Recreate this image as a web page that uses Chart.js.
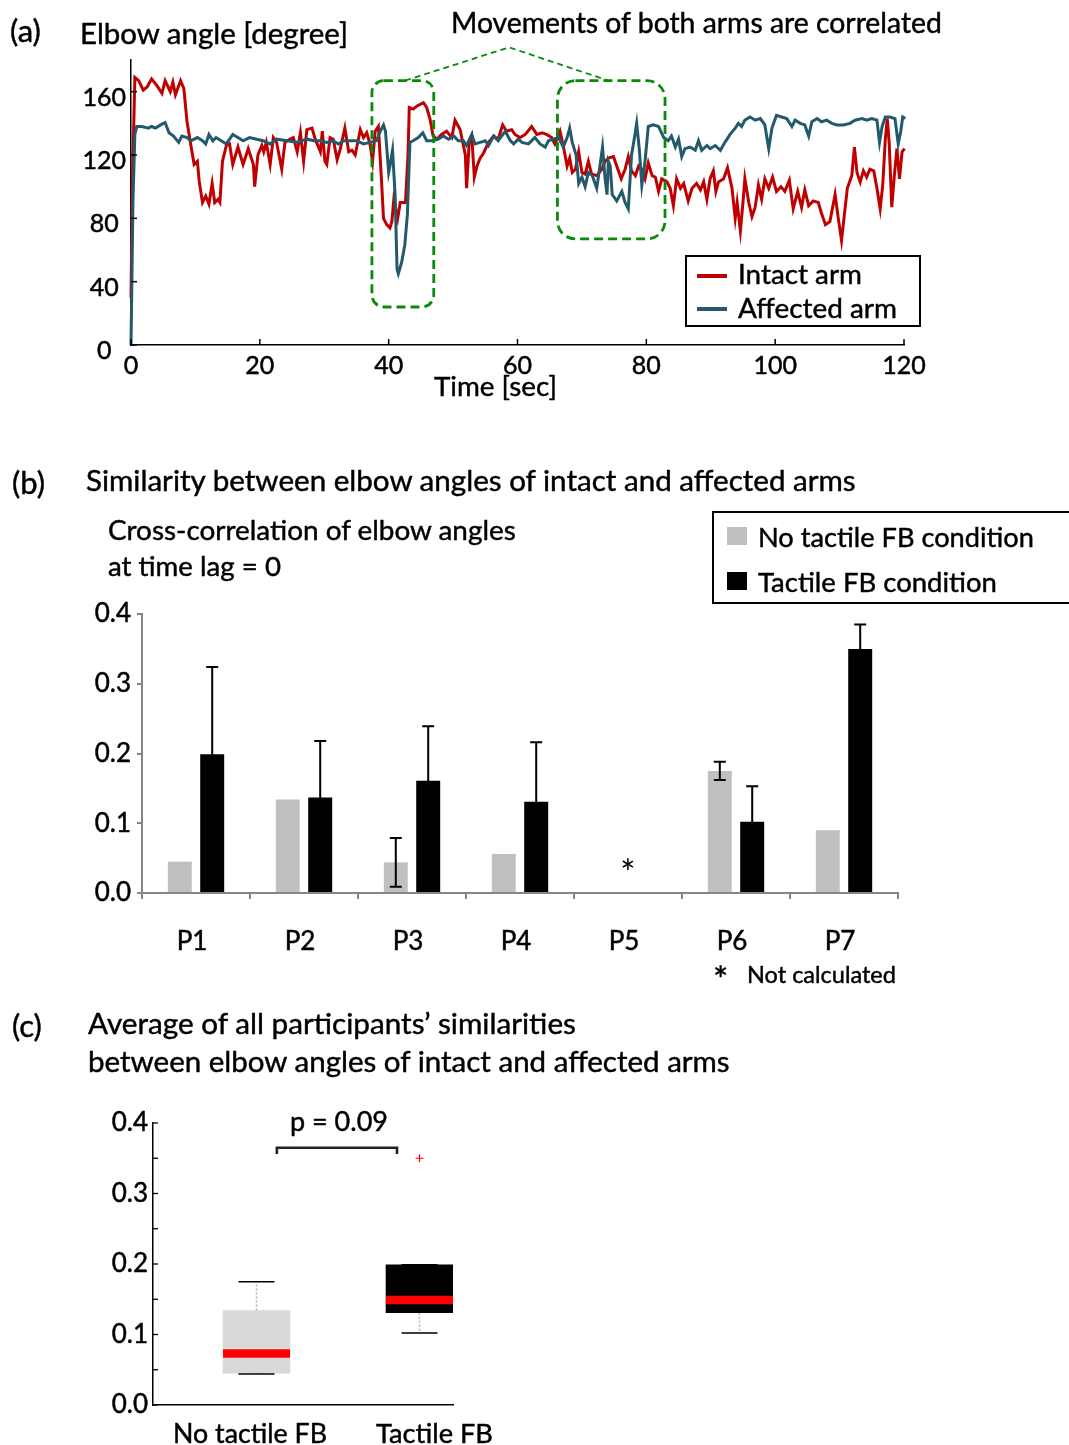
<!DOCTYPE html>
<html>
<head>
<meta charset="utf-8">
<script src="https://cdn.jsdelivr.net/npm/chart.js@4.4.1/dist/chart.umd.min.js"></script>
<style>
  html, body { margin: 0; padding: 0; background: #fff; }
  body { width: 1069px; height: 1445px; position: relative; overflow: hidden;
         font-family: Lato, "Open Sans", sans-serif; color: #000; }
  canvas { position: absolute; left: 0; }
  .t { position: absolute; white-space: nowrap; line-height: 1; transform: translateY(-50%);
       -webkit-text-stroke: 0.45px #000; }
  .frame { position: absolute; border: 2px solid #000; box-sizing: border-box; }
  .sw { position: absolute; }
</style>
</head>
<body>
<canvas id="chartA" width="1069" height="400" style="top:0px"></canvas>
<canvas id="chartB" width="1069" height="600" style="top:400px"></canvas>
<canvas id="chartC" width="1069" height="445" style="top:1000px"></canvas>

<!-- panel (a) text -->
<div class="t" style="left:10px;top:30px;font-size:31px">(a)</div>
<div class="t" data-w="268" style="left:80px;top:33px;font-size:26px">Elbow angle [degree]</div>
<div class="t" data-w="491" style="left:451px;top:22px;font-size:26px">Movements of both arms are correlated</div>
<div class="t" data-w="123" style="left:434px;top:386px;font-size:26px">Time [sec]</div>
<div class="frame" style="left:685px;top:255px;width:236px;height:72px"></div>
<div class="sw" id="swIntact" style="left:697px;top:274px;width:30px;height:3.5px"></div>
<div class="t" data-w="124" style="left:738px;top:274px;font-size:26px">Intact arm</div>
<div class="sw" id="swAffected" style="left:697px;top:307px;width:30px;height:3.5px"></div>
<div class="t" data-w="159" style="left:738px;top:308px;font-size:26px">Affected arm</div>

<!-- panel (b) text -->
<div class="t" style="left:12px;top:482px;font-size:31px">(b)</div>
<div class="t" data-w="770" style="left:86px;top:480px;font-size:26px">Similarity between elbow angles of intact and affected arms</div>
<div class="t" data-w="408" style="left:108px;top:530px;font-size:26px">Cross-correlation of elbow angles</div>
<div class="t" data-w="173" style="left:108px;top:566px;font-size:26px">at time lag = 0</div>
<div class="frame" style="left:712px;top:511px;width:380px;height:93px"></div>
<div class="sw" id="swNo" style="left:727px;top:527px;width:20px;height:18px"></div>
<div class="t" data-w="276" style="left:758px;top:537px;font-size:26px">No tactile FB condition</div>
<div class="sw" id="swTac" style="left:727px;top:572px;width:20px;height:18px"></div>
<div class="t" data-w="239" style="left:758px;top:582px;font-size:26px">Tactile FB condition</div>
<div class="t" style="left:713px;top:979px;font-size:36px">*</div>
<div class="t" data-w="149" style="left:747px;top:975px;font-size:24px">Not calculated</div>

<!-- panel (c) text -->
<div class="t" style="left:12px;top:1025px;font-size:31px">(c)</div>
<div class="t" data-w="488" style="left:88px;top:1023px;font-size:26px">Average of all participants’ similarities</div>
<div class="t" data-w="642" style="left:88px;top:1061px;font-size:26px">between elbow angles of intact and affected arms</div>
<div class="t" data-w="98" style="left:290px;top:1121px;font-size:26px">p = 0.09</div>
<div class="t" data-w="154" style="left:173px;top:1433px;font-size:26px">No tactile FB</div>
<div class="t" data-w="117" style="left:376px;top:1433px;font-size:26px">Tactile FB</div>

<script>
// ---------- data ----------
// (a) elbow angle traces: [time in s, angle in degrees]
const intactArm = [
  [0,30],[0.2,100],[0.6,169],[1.2,167],[1.9,161],[2.5,163],[3.2,168],[4.0,164],[4.8,159],[5.3,167],
  [6.1,160],[6.5,166],[6.9,158],[7.7,167],[8.2,162],[8.7,141],[9.3,126],[9.8,114],[10.3,116],[10.6,103],
  [11.1,90],[11.6,94],[12.1,89],[12.6,102],[13.0,90],[13.5,92],[13.8,90],[14.2,116],[14.8,126],[15.3,127],
  [15.8,114],[16.6,125],[17.4,114],[18.2,124],[19.0,114],[19.2,100],[19.7,120],[20.3,126],[20.6,122],[21.0,128],
  [21.6,114],[22.1,131],[22.6,128],[23.4,111],[23.9,128],[24.7,130],[25.2,131],[25.8,122],[26.3,134],[26.8,116],
  [27.3,136],[28.1,137],[28.6,130],[29.4,122],[29.7,135],[30.1,116],[30.4,114],[30.9,131],[31.4,130],[32.0,117],
  [32.5,124],[33.2,137],[33.8,122],[34.3,123],[34.8,120],[35.6,136],[36.1,131],[36.6,134],[37.1,127],[37.5,116],
  [37.9,135],[38.4,138],[38.9,103],[39.2,80],[39.7,76],[40.2,74],[40.5,78],[40.8,92],[41.4,80],[41.8,90],
  [42.6,90],[43.0,120],[43.2,150],[43.8,149],[44.4,151],[44.9,152],[45.4,153],[45.9,150],[46.4,143],[46.9,132],
  [47.5,130],[48.2,133],[49.0,135],[49.8,131],[50.3,142],[51.1,136],[51.9,120],[52.1,99],[52.5,128],[52.9,132],
  [53.3,106],[53.7,113],[54.2,118],[54.7,121],[55.5,128],[56.3,132],[57.0,130],[57.7,139],[58.3,135],[59.1,136],
  [59.6,133],[60.4,131],[61.2,133],[62.2,138],[63.0,133],[63.8,134],[64.5,133],[65.3,131],[65.8,127],[66.6,135],
  [67.1,126],[67.7,113],[68.1,118],[68.5,109],[69.0,111],[69.5,122],[70.0,109],[70.5,108],[71.0,116],[71.5,108],
  [72.3,107],[73.1,111],[73.6,116],[74.1,118],[74.9,119],[75.4,113],[76.1,105],[76.7,111],[77.2,119],[77.7,110],
  [78.3,107],[78.8,113],[79.3,111],[79.8,105],[80.3,115],[80.9,107],[81.4,106],[81.9,97],[82.4,105],[83.2,103],
  [83.7,99],[84.2,88],[84.7,105],[85.3,99],[85.8,102],[86.5,91],[87.1,99],[87.8,102],[88.4,98],[88.9,103],
  [89.4,92],[89.9,105],[90.4,110],[90.8,97],[91.2,103],[92.0,105],[92.6,112],[93.3,99],[93.8,80],[94.1,90],
  [94.6,72],[95.0,90],[95.3,105],[95.9,90],[96.4,81],[96.9,87],[97.4,101],[97.9,92],[98.4,105],[99.0,99],
  [99.6,106],[100.2,97],[100.9,100],[101.5,97],[102.2,104],[102.8,86],[103.5,97],[104.1,87],[104.6,98],[105.2,88],
  [105.9,91],[106.7,90],[107.2,83],[107.8,76],[108.5,78],[109.3,95],[109.8,80],[110.3,66],[110.9,88],[111.2,99],
  [111.9,107],[112.3,125],[112.7,109],[113.2,103],[113.7,110],[114.2,106],[114.7,111],[115.3,110],[115.8,99],[116.3,86],
  [116.7,101],[117.1,130],[117.4,143],[117.7,128],[118.1,87],[118.5,107],[118.9,124],[119.3,105],[119.7,122],[120.1,124]
];
const affectedArm = [
  [0,0],[0.3,90],[0.6,133],[0.9,138],[1.7,138],[2.7,137],[3.2,138],[3.8,137],[4.6,139],[5.3,140.5],
  [5.9,134],[6.6,132],[7.4,128],[7.9,132],[8.7,131],[9.3,129],[10.3,131],[11.1,129],[11.6,127],[12.1,133],
  [12.7,129],[13.2,131],[14.0,129],[14.8,127],[15.8,133],[16.6,131],[17.4,129],[18.4,131],[19.5,130],[20.5,129],
  [21.6,127],[22.6,130],[24.2,129],[25.8,128],[27.3,130],[28.4,129],[29.4,129],[30.4,128],[31.4,129],[32.2,127],
  [33.0,129],[34.0,129],[35.0,129],[36.1,127],[37.1,128],[38.1,129],[38.7,135],[39.2,139],[39.5,135],[40.0,109],
  [40.2,113],[40.6,123],[41.0,95],[41.3,48],[41.5,45],[42.0,52],[42.5,63],[42.9,82],[43.3,128],[43.8,129],
  [44.6,131],[45.3,134],[45.9,129],[46.7,129],[47.7,130],[48.5,132],[49.3,130],[50.1,132],[50.8,129],[51.6,129],
  [52.1,126],[52.9,133],[53.4,127],[54.2,128],[55.0,129],[55.5,126],[56.3,132],[57.0,129],[58.1,135],[58.9,129],
  [59.4,127],[60.1,130],[60.7,128],[61.7,127],[62.7,131],[63.5,127],[64.3,125],[64.8,129],[65.6,130],[66.4,131],
  [67.1,125],[67.7,131],[68.1,137],[68.5,128],[69.1,120],[69.5,102],[70.0,106],[70.5,100],[71.0,109],[71.6,107],
  [72.3,99],[72.8,113],[73.2,125],[73.6,105],[73.9,95],[74.1,116],[74.4,113],[74.7,95],[75.4,91],[76.2,97],
  [76.7,90],[77.2,86],[77.7,120],[78.2,132],[78.5,140],[78.9,124],[79.3,101],[79.8,116],[80.3,138],[81.1,139],
  [81.9,138],[82.7,131],[83.4,129],[83.9,132],[84.5,125],[85.0,130],[85.5,119],[86.0,124],[86.8,125],[87.6,123],
  [88.1,129],[88.6,123],[89.4,126],[89.9,124],[90.7,126],[91.5,123],[92.2,128],[93.0,133],[93.8,137],[94.3,140],
  [94.8,138],[95.3,142],[96.1,144],[96.9,142],[97.7,143],[98.4,139],[99.0,124],[99.5,137],[100.2,145],[101.0,144],
  [101.8,143],[102.6,138],[103.1,142],[103.9,140],[104.6,139],[105.2,132],[105.7,141],[106.5,143],[107.2,141],[108.0,142],
  [108.8,140],[109.6,139],[110.6,139],[111.6,140],[112.4,142],[113.5,143],[114.2,142],[115.0,143],[115.8,142],[116.2,128],
  [116.6,138],[117.1,144],[117.8,144],[118.6,143],[119.1,127],[119.5,135],[119.8,144],[120.2,143]
];
// highlighted windows (s / deg) and the connector between them
const focusWindows = [
  { from: 37.4, to: 47.0, low: 24, high: 167, radius: 12 },
  { from: 66.2, to: 82.9, low: 67, high: 167, radius: 18 }
];
const focusConnector = [[42.55, 167], [58.7, 188], [74.1, 167]];

// (b) cross-correlation per participant (null = not calculated)
const participants = ['P1', 'P2', 'P3', 'P4', 'P5', 'P6', 'P7'];
const noTactile    = [0.045, 0.134, 0.044, 0.056, null, 0.175, 0.090];
const noTactileErr = [0,     0,     0.035, 0,     null, 0.013, 0];
const tactile      = [0.199, 0.137, 0.161, 0.131, null, 0.102, 0.350];
const tactileErr   = [0.125, 0.081, 0.078, 0.085, null, 0.051, 0.035];

// (c) significance bracket between the two groups
const bracket = { from: 1.125, to: 1.862, level: 0.365, drop: 0.009 };

// ---------- styling ----------
const INTACT = '#C00000', AFFECTED = '#235A6B', GREEN = '#0A8A0A';
const GRAY_BAR = '#C0C0C0', AXIS_GRAY = '#868686';
const FONT = 'Lato, "Open Sans", sans-serif';
document.getElementById('swIntact').style.background = INTACT;
document.getElementById('swAffected').style.background = AFFECTED;
document.getElementById('swNo').style.background = GRAY_BAR;
document.getElementById('swTac').style.background = '#000';

Chart.defaults.font.family = FONT;
Chart.defaults.color = '#000';
const tickFont = size => ({ font: { size }, textStrokeColor: '#000', textStrokeWidth: 0.5 });

// tick marks pointing into the plot area
const insideTicks = {
  id: 'insideTicks',
  afterDraw(chart, args, opts) {
    const { ctx, chartArea } = chart;
    ctx.save();
    ctx.strokeStyle = opts.color || '#000';
    ctx.lineWidth = opts.width || 1.5;
    (opts.axes || []).forEach(id => {
      const s = chart.scales[id];
      s.ticks.forEach(t => {
        const p = s.getPixelForValue(t.value);
        ctx.beginPath();
        if (s.isHorizontal()) { ctx.moveTo(p, chartArea.bottom); ctx.lineTo(p, chartArea.bottom - opts.length); }
        else { ctx.moveTo(chartArea.left, p); ctx.lineTo(chartArea.left + opts.length, p); }
        ctx.stroke();
      });
    });
    ctx.restore();
  }
};

function roundedRect(ctx, x, y, w, h, r) {
  ctx.beginPath();
  ctx.moveTo(x + r, y);
  ctx.lineTo(x + w - r, y); ctx.arcTo(x + w, y, x + w, y + r, r);
  ctx.lineTo(x + w, y + h - r); ctx.arcTo(x + w, y + h, x + w - r, y + h, r);
  ctx.lineTo(x + r, y + h); ctx.arcTo(x, y + h, x, y + h - r, r);
  ctx.lineTo(x, y + r); ctx.arcTo(x, y, x + r, y, r);
  ctx.closePath();
}

// dashed rounded frames around correlated segments
const focusBoxes = {
  id: 'focusBoxes',
  afterDatasetsDraw(chart, args, opts) {
    const { ctx, scales: { x, y } } = chart;
    ctx.save();
    ctx.strokeStyle = GREEN;
    ctx.lineWidth = 2.8;
    ctx.setLineDash([9, 5]);
    opts.windows.forEach(w => {
      const l = x.getPixelForValue(w.from), r = x.getPixelForValue(w.to);
      const t = y.getPixelForValue(w.high), b = y.getPixelForValue(w.low);
      roundedRect(ctx, l, t, r - l, b - t, w.radius);
      ctx.stroke();
    });
    ctx.lineWidth = 1.8;
    ctx.setLineDash([6, 4]);
    ctx.beginPath();
    opts.connector.forEach(([tx, ty], i) => {
      const px = x.getPixelForValue(tx), py = y.getPixelForValue(ty);
      if (i) ctx.lineTo(px, py); else ctx.moveTo(px, py);
    });
    ctx.stroke();
    ctx.restore();
  }
};

// ---------- (a) elbow angle over time ----------
new Chart(document.getElementById('chartA'), {
  type: 'line',
  data: {
    datasets: [
      { label: 'Intact arm', data: intactArm.map(([x, y]) => ({ x, y })), borderColor: INTACT,
        borderWidth: 3, pointRadius: 0, tension: 0, order: 2, clip: false },
      { label: 'Affected arm', data: affectedArm.map(([x, y]) => ({ x, y })), borderColor: AFFECTED,
        borderWidth: 3, pointRadius: 0, tension: 0, order: 1, clip: false }
    ]
  },
  options: {
    responsive: false, animation: false, devicePixelRatio: 1,
    layout: { padding: { left: 0, right: 165, top: 60, bottom: 0 } },
    plugins: {
      legend: { display: false }, tooltip: { enabled: false },
      insideTicks: { axes: ['x', 'y'], length: 6, width: 1.5 },
      focusBoxes: { windows: focusWindows, connector: focusConnector }
    },
    scales: {
      x: {
        type: 'linear', min: 0, max: 120,
        ticks: { ...tickFont(25), stepSize: 20, padding: 6, maxRotation: 0 },
        grid: { drawOnChartArea: false, drawTicks: false },
        border: { color: '#000', width: 1.5 },
        afterFit(s) { s.height = 55; }
      },
      y: {
        min: 0, max: 180,
        ticks: { ...tickFont(25), stepSize: 20, padding: 5, crossAlign: 'center', labelOffset: 6,
                 callback: v => (v % 40 === 0 ? v : '') },
        grid: { drawOnChartArea: false, drawTicks: false },
        border: { color: '#000', width: 1.5 },
        afterFit(s) { s.width = 131; }
      }
    }
  },
  plugins: [insideTicks, focusBoxes]
});

// ---------- (b) per-participant bars ----------
const errorBars = {
  id: 'errorBars',
  afterDatasetsDraw(chart) {
    const { ctx } = chart, y = chart.scales.y;
    ctx.save();
    ctx.strokeStyle = '#000';
    ctx.lineWidth = 2;
    chart.data.datasets.forEach((ds, i) => {
      chart.getDatasetMeta(i).data.forEach((bar, j) => {
        const v = ds.data[j], e = ds.errors[j];
        if (v == null || !e) return;
        const top = y.getPixelForValue(v + e), bot = y.getPixelForValue(v - e);
        ctx.beginPath();
        ctx.moveTo(bar.x, top); ctx.lineTo(bar.x, bot);
        ctx.moveTo(bar.x - 6, top); ctx.lineTo(bar.x + 6, top);
        ctx.moveTo(bar.x - 6, bot); ctx.lineTo(bar.x + 6, bot);
        ctx.stroke();
      });
    });
    ctx.restore();
  }
};
const notCalculatedMark = {
  id: 'notCalculatedMark',
  afterDatasetsDraw(chart) {
    const { ctx, scales: { x, y } } = chart;
    ctx.save();
    ctx.font = '36px ' + FONT;
    ctx.textAlign = 'center';
    ctx.textBaseline = 'middle';
    ctx.fillStyle = '#000';
    participants.forEach((p, i) => {
      if (noTactile[i] == null && tactile[i] == null) ctx.fillText('*', x.getPixelForValue(i), y.getPixelForValue(0.027));
    });
    ctx.restore();
  }
};

new Chart(document.getElementById('chartB'), {
  type: 'bar',
  data: {
    labels: participants,
    datasets: [
      { label: 'No tactile FB condition', data: noTactile, errors: noTactileErr, backgroundColor: GRAY_BAR,
        categoryPercentage: 0.6, barPercentage: 0.74 },
      { label: 'Tactile FB condition', data: tactile, errors: tactileErr, backgroundColor: '#000',
        categoryPercentage: 0.6, barPercentage: 0.74 }
    ]
  },
  options: {
    responsive: false, animation: false, devicePixelRatio: 1,
    layout: { padding: { left: 0, right: 171, top: 214, bottom: 0 } },
    plugins: { legend: { display: false }, tooltip: { enabled: false } },
    scales: {
      x: {
        ticks: { ...tickFont(26), padding: 27, labelOffset: -4 },
        grid: { drawOnChartArea: false, tickLength: 6, color: AXIS_GRAY, lineWidth: 2 },
        border: { color: AXIS_GRAY, width: 2 },
        afterFit(s) { s.height = 107; }
      },
      y: {
        min: 0, max: 0.4,
        ticks: { ...tickFont(26), stepSize: 0.1, padding: 6, callback: v => v.toFixed(1) },
        grid: { drawOnChartArea: false, tickLength: 5, color: AXIS_GRAY, lineWidth: 2 },
        border: { color: AXIS_GRAY, width: 2 },
        afterFit(s) { s.width = 142; }
      }
    }
  },
  plugins: [errorBars, notCalculatedMark]
});

// ---------- (c) box plot of participant averages ----------
function quantile(sorted, p) {
  const n = sorted.length, pos = p * n + 0.5;
  if (pos <= 1) return sorted[0];
  if (pos >= n) return sorted[n - 1];
  const lo = Math.floor(pos), f = pos - lo;
  return sorted[lo - 1] + f * (sorted[lo] - sorted[lo - 1]);
}
function summarize(values) {
  const v = values.filter(x => x != null).sort((a, b) => a - b);
  const q1 = quantile(v, 0.25), med = quantile(v, 0.5), q3 = quantile(v, 0.75);
  const iqr = q3 - q1, lo = q1 - 1.5 * iqr, hi = q3 + 1.5 * iqr;
  const inside = v.filter(x => x >= lo && x <= hi);
  return { q1, med, q3, min: inside[0], max: inside[inside.length - 1], outliers: v.filter(x => x < lo || x > hi) };
}
const boxStats = [noTactile, tactile].map(summarize);

const boxDetails = {
  id: 'boxDetails',
  beforeDatasetsDraw(chart) {
    const { ctx, scales: { x, y } } = chart;
    ctx.save();
    ctx.strokeStyle = '#B0B0B0';
    ctx.lineWidth = 1.5;
    ctx.setLineDash([2, 2]);
    boxStats.forEach((s, i) => {
      const cx = x.getPixelForValue(i + 1);
      ctx.beginPath();
      ctx.moveTo(cx, y.getPixelForValue(s.q3)); ctx.lineTo(cx, y.getPixelForValue(s.max));
      ctx.moveTo(cx, y.getPixelForValue(s.q1)); ctx.lineTo(cx, y.getPixelForValue(s.min));
      ctx.stroke();
    });
    ctx.restore();
  },
  afterDatasetsDraw(chart) {
    const { ctx, scales: { x, y } } = chart;
    const bars = chart.getDatasetMeta(0).data;
    ctx.save();
    boxStats.forEach((s, i) => {
      const cx = x.getPixelForValue(i + 1), half = bars[i].width / 2;
      // median band
      ctx.strokeStyle = '#FF0000';
      ctx.lineWidth = 8.5;
      ctx.beginPath();
      ctx.moveTo(cx - half, y.getPixelForValue(s.med)); ctx.lineTo(cx + half, y.getPixelForValue(s.med));
      ctx.stroke();
      // whisker caps
      ctx.strokeStyle = '#000';
      ctx.lineWidth = 1.5;
      [s.min, s.max].forEach(v => {
        const py = y.getPixelForValue(v);
        ctx.beginPath(); ctx.moveTo(cx - 18, py); ctx.lineTo(cx + 18, py); ctx.stroke();
      });
      // outliers
      ctx.strokeStyle = '#FF0000';
      ctx.lineWidth = 1.2;
      s.outliers.forEach(v => {
        const py = y.getPixelForValue(v);
        ctx.beginPath();
        ctx.moveTo(cx - 4, py); ctx.lineTo(cx + 4, py);
        ctx.moveTo(cx, py - 4); ctx.lineTo(cx, py + 4);
        ctx.stroke();
      });
    });
    // significance bracket
    const l = x.getPixelForValue(bracket.from), r = x.getPixelForValue(bracket.to);
    const top = y.getPixelForValue(bracket.level), end = y.getPixelForValue(bracket.level - bracket.drop);
    ctx.strokeStyle = '#222';
    ctx.lineWidth = 2.6;
    ctx.beginPath();
    ctx.moveTo(l, end); ctx.lineTo(l, top); ctx.lineTo(r, top); ctx.lineTo(r, end);
    ctx.stroke();
    ctx.restore();
  }
};

new Chart(document.getElementById('chartC'), {
  type: 'bar',
  data: {
    datasets: [{
      label: 'Cross-correlation',
      data: boxStats.map((s, i) => ({ x: i + 1, y: [s.q1, s.q3] })),
      backgroundColor: ['#D9D9D9', '#000'],
      barThickness: 67
    }]
  },
  options: {
    responsive: false, animation: false, devicePixelRatio: 1,
    layout: { padding: { left: 0, right: 616, top: 123, bottom: 0 } },
    plugins: { legend: { display: false }, tooltip: { enabled: false },
               insideTicks: { axes: ['y'], length: 5, width: 1.3 } },
    scales: {
      x: {
        type: 'linear', min: 0.365, max: 2.2055, offset: false,
        ticks: { display: false },
        grid: { drawOnChartArea: false, drawTicks: false, offset: false },
        border: { color: '#000', width: 1.5 },
        afterFit(s) { s.height = 40; }
      },
      y: {
        min: 0, max: 0.4,
        ticks: { ...tickFont(26), stepSize: 0.05, padding: 5,
                 callback: v => (Math.abs(v * 10 - Math.round(v * 10)) < 1e-6 ? v.toFixed(1) : '') },
        grid: { drawOnChartArea: false, drawTicks: false },
        border: { color: '#000', width: 1.5 },
        afterFit(s) { s.width = 153; }
      }
    }
  },
  plugins: [insideTicks, boxDetails]
});

// size each caption to its layout width
function fitCaptions() {
  document.querySelectorAll('[data-w]').forEach(el => {
    const target = +el.dataset.w;
    const w = el.getBoundingClientRect().width;
    const fs = parseFloat(getComputedStyle(el).fontSize);
    if (w > 0) el.style.fontSize = (fs * target / w).toFixed(2) + 'px';
  });
}
fitCaptions();
</script>
</body>
</html>
